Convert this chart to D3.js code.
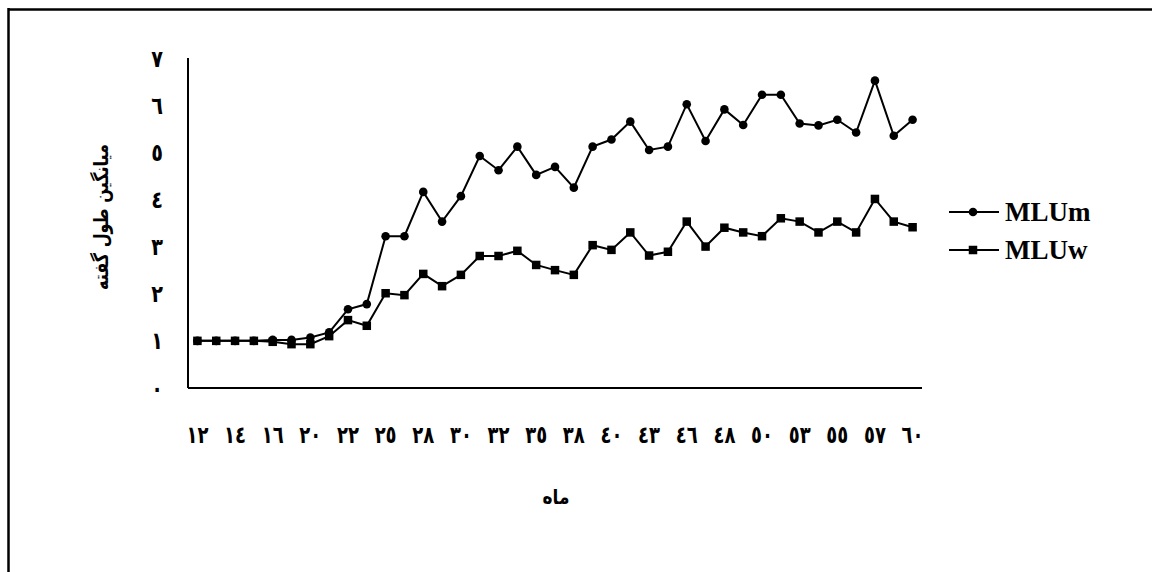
<!DOCTYPE html>
<html>
<head>
<meta charset="utf-8">
<script src="https://cdn.jsdelivr.net/npm/d3@7"></script>
<style>
  html, body { margin: 0; padding: 0; background: #fff; }
  svg { display: block; }
</style>
</head>
<body>
<svg id="chart" width="1152" height="572"></svg>
<script>
// Months (category axis); every other one is labelled
const months = [12,13,14,15,16,18,20,21,22,24,25,26,28,29,30,31,32,33,35,36,38,39,40,42,43,45,46,47,48,49,50,52,53,54,55,56,57,58,60];
const mluM = [1.0,1.0,1.0,1.0,1.02,1.02,1.07,1.18,1.67,1.78,3.22,3.22,4.16,3.53,4.07,4.92,4.62,5.12,4.52,4.69,4.25,5.12,5.27,5.65,5.05,5.12,6.02,5.24,5.91,5.58,6.22,6.22,5.61,5.57,5.69,5.42,6.52,5.35,5.69];
const mluW = [1.0,1.0,1.0,1.0,0.98,0.93,0.93,1.10,1.44,1.32,2.01,1.97,2.42,2.16,2.40,2.80,2.80,2.91,2.61,2.50,2.40,3.03,2.93,3.30,2.81,2.89,3.53,3.00,3.40,3.30,3.22,3.60,3.53,3.30,3.53,3.30,4.01,3.53,3.41];
const yTicks = [0,1,2,3,4,5,6,7];
const seriesNames = ["MLUm","MLUw"];
const yTitle = "میانگین طول گفته";
const xTitle = "ماه";

(function () {
const arabicDigits = "٠١٢٣٤٥٦٧٨٩";
const toAr = n => String(n).replace(/[0-9]/g, d => arabicDigits[+d]);

const svg = d3.select("#chart");
const arFont = "'DejaVu Sans', sans-serif";

// outer frame (top + left only visible)
svg.append("line").attr("x1", 9).attr("x2", 1152).attr("y1", 9.5).attr("y2", 9.5)
  .attr("stroke", "#000").attr("stroke-width", 2.5);
svg.append("line").attr("x1", 8.5).attr("x2", 8.5).attr("y1", 8).attr("y2", 572)
  .attr("stroke", "#000").attr("stroke-width", 2.5);

const pL = 188, pR = 922, pT = 58, pB = 388;

const x = d3.scaleBand().domain(months.map(String)).range([pL, pR]).paddingInner(0).paddingOuter(0);
const y = d3.scaleLinear().domain([0, 7]).range([pB, pT]);
const cx = m => x(String(m)) + x.bandwidth() / 2;

// axes
const xAxis = d3.axisBottom(x).tickSize(0).tickFormat(() => "");
const gx = svg.append("g").attr("transform", `translate(0,${pB})`).call(xAxis);
gx.select(".domain").attr("stroke", "#000").attr("stroke-width", 2).attr("d", `M${pL},0H${pR}`);

const yAxis = d3.axisLeft(y).tickValues(yTicks).tickSize(0).tickFormat(() => "");
const gy = svg.append("g").attr("transform", `translate(${pL},0)`).call(yAxis);
gy.select(".domain").attr("stroke", "#000").attr("stroke-width", 2).attr("d", `M0,${pT}V${pB}`);

// y tick labels
svg.append("g").selectAll("text").data(yTicks).join("text")
  .attr("transform", d => `translate(157,${y(d) + 2}) scale(0.8,1)`)
  .attr("text-anchor", "middle").attr("dominant-baseline", "middle")
  .attr("font-family", arFont).attr("font-weight", "bold").attr("font-size", 24)
  .text(d => toAr(d));

// x tick labels (every other category)
svg.append("g").selectAll("text").data(months.filter((m, i) => i % 2 === 0)).join("text")
  .attr("transform", d => `translate(${cx(d)},436) scale(0.75,1)`)
  .attr("text-anchor", "middle").attr("dominant-baseline", "middle")
  .attr("font-family", arFont).attr("font-weight", "bold").attr("font-size", 24)
  .text(d => toAr(d));

// titles
svg.append("text").attr("transform", `translate(102,${(pT + pB) / 2 - 6}) rotate(-90) scale(0.8,1)`)
  .attr("text-anchor", "middle").attr("dominant-baseline", "middle")
  .attr("font-family", arFont).attr("font-weight", "bold").attr("font-size", 20)
  .attr("direction", "rtl")
  .text(yTitle);
svg.append("text").attr("transform", "translate(556,498) scale(0.85,1)")
  .attr("text-anchor", "middle").attr("dominant-baseline", "middle")
  .attr("font-family", arFont).attr("font-weight", "bold").attr("font-size", 20)
  .attr("direction", "rtl")
  .text(xTitle);

// lines
const line = d3.line().x((d, i) => cx(months[i])).y(d => y(d));
[mluM, mluW].forEach(s => {
  svg.append("path").datum(s).attr("d", line)
    .attr("fill", "none").attr("stroke", "#000").attr("stroke-width", 2);
});

// markers
svg.append("g").selectAll("circle").data(mluM).join("circle")
  .attr("cx", (d, i) => cx(months[i])).attr("cy", d => y(d)).attr("r", 4.3).attr("fill", "#000");
const sq = 8.5;
svg.append("g").selectAll("rect").data(mluW).join("rect")
  .attr("x", (d, i) => cx(months[i]) - sq / 2).attr("y", d => y(d) - sq / 2)
  .attr("width", sq).attr("height", sq).attr("fill", "#000");

// legend
const legY = [212, 250];
seriesNames.forEach((name, k) => {
  const g = svg.append("g");
  g.append("line").attr("x1", 949).attr("x2", 999).attr("y1", legY[k]).attr("y2", legY[k])
    .attr("stroke", "#000").attr("stroke-width", 2);
  if (k === 0) {
    g.append("circle").attr("cx", 973).attr("cy", legY[k]).attr("r", 4.3).attr("fill", "#000");
  } else {
    g.append("rect").attr("x", 973 - sq / 2).attr("y", legY[k] - sq / 2).attr("width", sq).attr("height", sq).attr("fill", "#000");
  }
  g.append("text").attr("x", 1005).attr("y", legY[k] + 9)
    .attr("font-family", "'Liberation Serif', 'Times New Roman', serif").attr("font-weight", "bold").attr("font-size", 27)
    .text(name);
});
})();
</script>
</body>
</html>
